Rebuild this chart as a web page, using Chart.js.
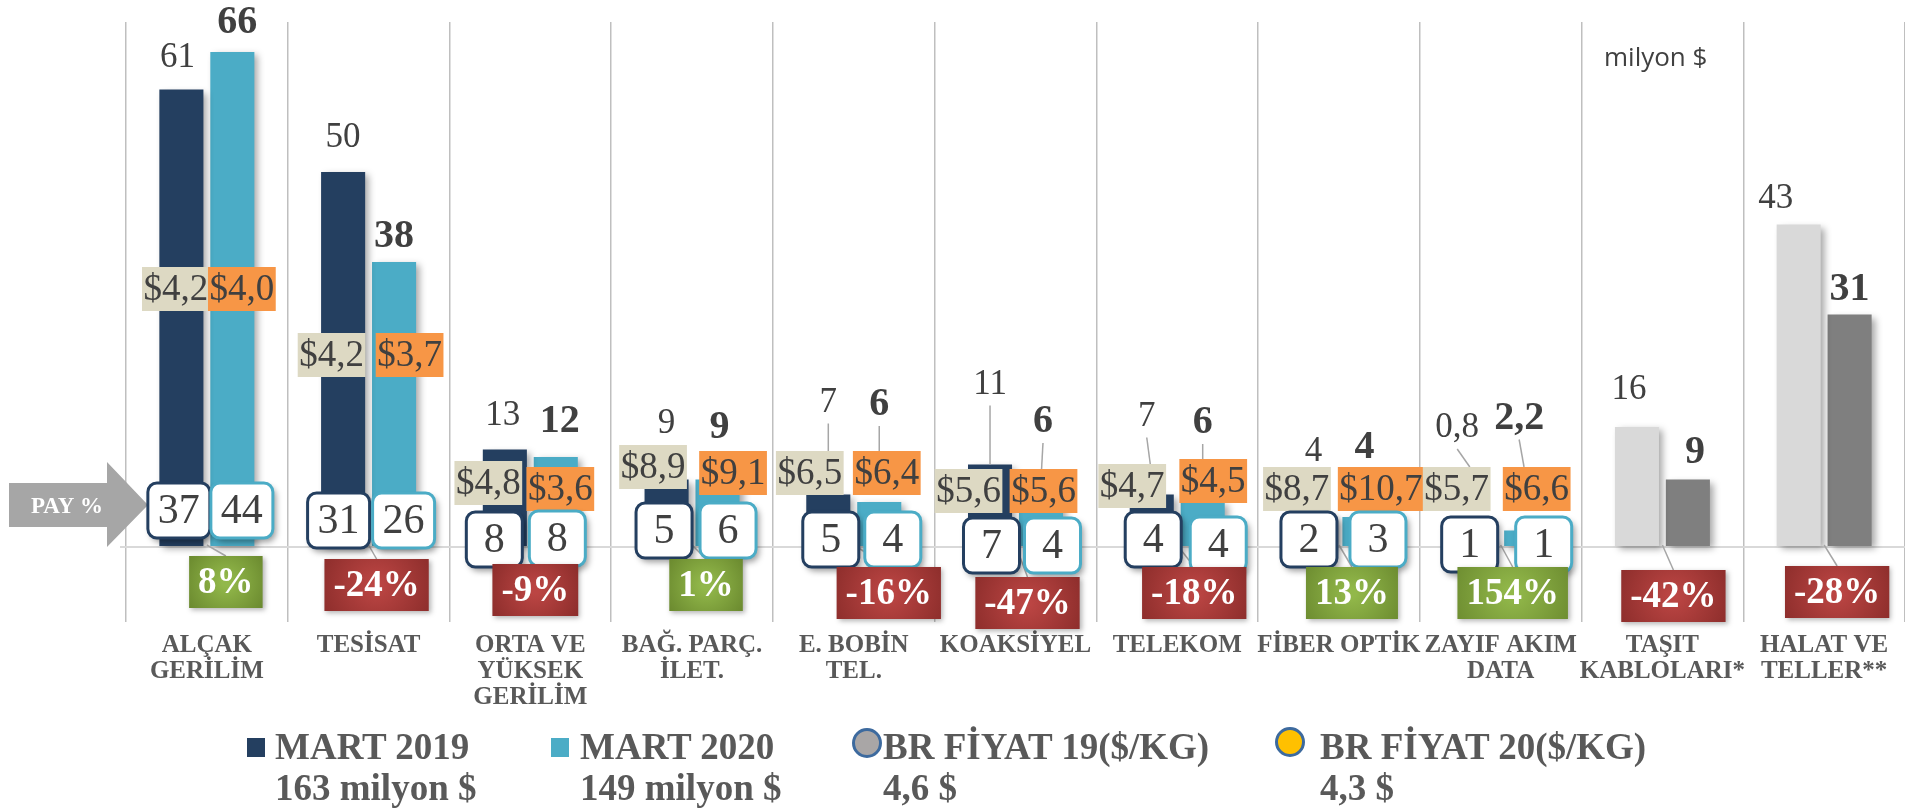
<!DOCTYPE html>
<html>
<head>
<meta charset="utf-8">
<script src="https://cdn.jsdelivr.net/npm/chart.js@4.4.1/dist/chart.umd.min.js"></script>
<style>
html,body{margin:0;padding:0;background:#fff;}
#wrap{position:relative;width:1905px;height:811px;overflow:hidden;}
#grafik{position:absolute;left:0;top:0;}
.leg{position:absolute;top:726px;font:bold 37px "Liberation Serif",serif;color:#595959;line-height:41px;white-space:nowrap;}
.kare{position:absolute;top:738px;width:18px;height:19px;}
.daire{position:absolute;width:24px;height:24px;border-radius:50%;border:3px solid #3d6a9e;}
#birim{position:absolute;left:1604px;top:38px;font:26px "Open Sans",sans-serif;color:#404040;}
</style>
</head>
<body>
<div id="wrap">
  <canvas id="grafik" width="1905" height="811"></canvas>
  <div id="birim">milyon $</div>
  <div class="kare" style="left:247px;background:#243f60"></div>
  <div class="leg" id="leg0" style="left:275px"></div>
  <div class="kare" style="left:551px;background:#4bacc6"></div>
  <div class="leg" id="leg1" style="left:580px"></div>
  <div class="daire" style="left:852px;top:728px;background:#a9a6a6"></div>
  <div class="leg" id="leg2" style="left:883px"></div>
  <div class="daire" style="left:1275px;top:727px;background:#ffc000"></div>
  <div class="leg" id="leg3" style="left:1320px"></div>
</div>
<script>
// Veriler (milyon $)
const kategoriler = [
  ['ALÇAK','GERİLİM'], ['TESİSAT'], ['ORTA VE','YÜKSEK','GERİLİM'], ['BAĞ. PARÇ.','İLET.'],
  ['E. BOBİN','TEL.'], ['KOAKSİYEL'], ['TELEKOM'], ['FİBER OPTİK'], ['ZAYIF AKIM','DATA'],
  ['TAŞIT','KABLOLARI*'], ['HALAT VE','TELLER**']
];
const mart2019 = [61, 50, 13, 9, 7, 11, 7, 4, 0.8, 16, 43];
const mart2020 = [66, 38, 12, 9, 6, 6, 6, 4, 2.2, 9, 31];
const fiyat2019 = [4.2, 4.2, 4.8, 8.9, 6.5, 5.6, 4.7, 8.7, 5.7, null, null];
const fiyat2020 = [4.0, 3.7, 3.6, 9.1, 6.4, 5.6, 4.5, 10.7, 6.6, null, null];
const pay2019 = [37, 31, 8, 5, 5, 7, 4, 2, 1, null, null];
const pay2020 = [44, 26, 8, 6, 4, 4, 4, 3, 1, null, null];
const degisim = [8, -24, -9, 1, -16, -47, -18, 13, 154, -42, -28];
const seriAdlari = ['MART 2019', 'MART 2020', 'BR FİYAT 19($/KG)', 'BR FİYAT 20($/KG)'];
const toplamlar = [163, 149];
const ortFiyatlar = [4.6, 4.3];

// Etiket yerleşimi (piksel kaydırmaları)
const etiketDy19 = [-32, -34, -34, -56, -92, -80, -78, -65, -113, -37, -26];
const etiketDy20 = [-29, -25, -35, -52, -97, -80, -79, -69, -112, -27, -25];
const etiketDx19 = [-4, 0, -2, 0, 0, 0, -5, 0, -18, -8, -23];
const etiketDx20 = [5, 0, 4, 2, 0, 2, 0, 0, -7, 7, 0];
const kilavuz = [0, 0, 0, 0, 1, 1, 1, 0, 1, 0, 0];
const fiyatYer = [ // [dx19, dy19, dx20, dy20] kategori merkezine / sıfır çizgisine göre
  [-31,-258,35,-258], [-37,-192,41,-192], [-42,-64,30,-58], [-39,-80,41,-74], [-44,-74,33,-74],
  [-47,-56,28,-56], [-45,-61,36,-66], [-42,-58,42,-58], [-44,-58,36,-58]
];
const payYer = [
  [-28,-37,35,-37], [-30,-27,35,-27], [-36,-8,27,-9], [-28,-17,36,-17], [-23,-8,39,-8],
  [-24,-2,37,-2], [-24,-8,41,-3], [-30,-8,39,-8], [-31,-3,43,-3]
];
const yuzdeYer = [[19,35],[8,38],[5,43],[14,38],[35,46],[12,56],[17,46],[13,46],[12,46],[11,49],[13,45]];

const virgul = (v, d) => (d === undefined ? String(v) : v.toFixed(d)).replace('.', ',');

document.getElementById('leg0').innerHTML = seriAdlari[0] + '<br>' + toplamlar[0] + ' milyon $';
document.getElementById('leg1').innerHTML = seriAdlari[1] + '<br>' + toplamlar[1] + ' milyon $';
document.getElementById('leg2').innerHTML = seriAdlari[2] + '<br>' + virgul(ortFiyatlar[0], 1) + ' $';
document.getElementById('leg3').innerHTML = seriAdlari[3] + '<br>' + virgul(ortFiyatlar[1], 1) + ' $';

const SERIF = '"Liberation Serif", serif';

function kutu(ctx, x, y, w, h, r) {
  ctx.beginPath();
  ctx.moveTo(x + r, y);
  ctx.arcTo(x + w, y, x + w, y + h, r);
  ctx.arcTo(x + w, y + h, x, y + h, r);
  ctx.arcTo(x, y + h, x, y, r);
  ctx.arcTo(x, y, x + w, y, r);
  ctx.closePath();
}

const ustKatman = {
  id: 'ustKatman',
  beforeDatasetsDraw(chart) {
    const ctx = chart.ctx;
    ctx.save();
    ctx.shadowColor = 'rgba(0,0,0,0.35)';
    ctx.shadowBlur = 7;
    ctx.shadowOffsetX = 4;
    ctx.shadowOffsetY = 3;
  },
  afterDatasetsDraw(chart) {
    const ctx = chart.ctx;
    ctx.restore();
    const x = chart.scales.x, y = chart.scales.y;
    const y0 = y.getPixelForValue(0);
    const m0 = chart.getDatasetMeta(0).data, m1 = chart.getDatasetMeta(1).data;

    // sıfır çizgisi oka kadar uzasın
    ctx.save();
    ctx.strokeStyle = '#d9d9d9';
    ctx.lineWidth = 2;
    ctx.beginPath(); ctx.moveTo(120, y0); ctx.lineTo(chart.chartArea.left, y0); ctx.stroke();

    // PAY % oku
    ctx.fillStyle = '#a6a6a6';
    ctx.beginPath();
    ctx.moveTo(9, y0 - 64); ctx.lineTo(107, y0 - 64); ctx.lineTo(107, y0 - 85);
    ctx.lineTo(148, y0 - 42); ctx.lineTo(107, y0 + 0); ctx.lineTo(107, y0 - 20);
    ctx.lineTo(9, y0 - 20); ctx.closePath(); ctx.fill();
    ctx.fillStyle = '#ffffff';
    ctx.font = 'bold 23px ' + SERIF;
    ctx.textAlign = 'center'; ctx.textBaseline = 'middle';
    ctx.fillText('PAY %', 67, y0 - 40);
    ctx.restore();

    ctx.save();
    ctx.textAlign = 'center';
    ctx.textBaseline = 'middle';

    // kılavuz çizgileri: sıfır çizgisinden yüzde kutusuna
    ctx.strokeStyle = '#a6a6a6';
    ctx.lineWidth = 1.5;
    kategoriler.forEach((k, i) => {
      const cx = x.getPixelForValue(i);
      ctx.beginPath();
      ctx.moveTo(cx, y0 - 2);
      ctx.lineTo(cx + yuzdeYer[i][0], y0 + yuzdeYer[i][1] - 26);
      ctx.stroke();
    });

    // değer etiketi kılavuzları
    kategoriler.forEach((k, i) => {
      if (!kilavuz[i]) return;
      [[m0[i], etiketDx19[i], etiketDy19[i], fiyatYer[i][1]], [m1[i], etiketDx20[i], etiketDy20[i], fiyatYer[i][3]]].forEach(([bar, dx, dy, fdy]) => {
        const lx = bar.x + dx, ly = bar.y + dy + 21;
        const hedef = Math.min(bar.y, y0 + fdy - 22);
        ctx.beginPath();
        ctx.moveTo(lx, ly);
        ctx.lineTo(bar.x + dx * 0.3, hedef);
        ctx.stroke();
      });
    });

    // fiyat kutuları
    ctx.font = '37px ' + SERIF;
    kategoriler.forEach((k, i) => {
      if (fiyat2019[i] == null) return;
      const cx = x.getPixelForValue(i);
      [[fiyat2019[i], fiyatYer[i][0], fiyatYer[i][1], '#ddd9c3'], [fiyat2020[i], fiyatYer[i][2], fiyatYer[i][3], '#f79646']].forEach(([v, dx, dy, renk]) => {
        const t = '$' + virgul(v, 1);
        const w = ctx.measureText(t).width + 3;
        ctx.fillStyle = renk;
        ctx.fillRect(cx + dx - w / 2, y0 + dy - 22, w, 44);
        ctx.fillStyle = '#404040';
        ctx.fillText(t, cx + dx, y0 + dy + 1);
      });
    });

    // pay kutuları
    ctx.font = '42px ' + SERIF;
    kategoriler.forEach((k, i) => {
      if (pay2019[i] == null) return;
      const cx = x.getPixelForValue(i);
      [[pay2019[i], payYer[i][0], payYer[i][1], '#243f60'], [pay2020[i], payYer[i][2], payYer[i][3], '#4bacc6']].forEach(([v, dx, dy, renk]) => {
        const t = String(v);
        const w = Math.max(ctx.measureText(t).width + 20, 56);
        ctx.save();
        ctx.shadowColor = 'rgba(0,0,0,0.4)';
        ctx.shadowBlur = 6; ctx.shadowOffsetX = 3; ctx.shadowOffsetY = 4;
        kutu(ctx, cx + dx - w / 2, y0 + dy - 27, w, 55, 9);
        ctx.fillStyle = '#ffffff';
        ctx.fill();
        ctx.restore();
        ctx.lineWidth = 3;
        ctx.strokeStyle = renk;
        kutu(ctx, cx + dx - w / 2, y0 + dy - 27, w, 55, 9);
        ctx.stroke();
        ctx.fillStyle = '#404040';
        ctx.fillText(t, cx + dx, y0 + dy + 2);
      });
    });

    // değişim yüzdeleri
    ctx.font = 'bold 37px ' + SERIF;
    degisim.forEach((v, i) => {
      const cx = x.getPixelForValue(i) + yuzdeYer[i][0];
      const cy = y0 + yuzdeYer[i][1];
      const t = v + '%';
      const w = ctx.measureText(t).width + 18;
      const g = ctx.createRadialGradient(cx, cy, 4, cx, cy, w * 0.6);
      if (v >= 0) { g.addColorStop(0, '#92b84a'); g.addColorStop(1, '#6b8a2f'); }
      else { g.addColorStop(0, '#bb4543'); g.addColorStop(1, '#8a2c2a'); }
      ctx.save();
      ctx.shadowColor = 'rgba(0,0,0,0.3)';
      ctx.shadowBlur = 5; ctx.shadowOffsetX = 2; ctx.shadowOffsetY = 2;
      ctx.fillStyle = g;
      ctx.fillRect(cx - w / 2, cy - 26, w, 52);
      ctx.restore();
      ctx.fillStyle = '#ffffff';
      ctx.fillText(t, cx, cy + 1);
    });

    // değer etiketleri
    ctx.fillStyle = '#404040';
    kategoriler.forEach((k, i) => {
      ctx.font = '35px ' + SERIF;
      ctx.fillText(virgul(mart2019[i]), m0[i].x + etiketDx19[i], m0[i].y + etiketDy19[i]);
      ctx.font = 'bold 40px ' + SERIF;
      ctx.fillText(virgul(mart2020[i]), m1[i].x + etiketDx20[i], m1[i].y + etiketDy20[i]);
    });
    ctx.restore();
  }
};

new Chart(document.getElementById('grafik'), {
  type: 'bar',
  data: {
    labels: kategoriler,
    datasets: [
      {
        label: seriAdlari[0],
        data: mart2019,
        backgroundColor: c => c.dataIndex >= 9 ? '#d9d9d9' : '#243f60',
        categoryPercentage: 0.63,
        barPercentage: 0.865
      },
      {
        label: seriAdlari[1],
        data: mart2020,
        backgroundColor: c => c.dataIndex >= 9 ? '#7f7f7f' : '#4bacc6',
        categoryPercentage: 0.63,
        barPercentage: 0.865
      }
    ]
  },
  options: {
    responsive: false,
    animation: false,
    layout: { padding: { left: 126, top: 22, right: 0, bottom: 0 } },
    plugins: { legend: { display: false }, tooltip: { enabled: false } },
    scales: {
      x: {
        grid: { offset: true, color: '#bfbfbf', lineWidth: 1.5, drawTicks: false },
        border: { display: false },
        ticks: {
          color: '#595959', padding: 11, maxRotation: 0, autoSkip: false,
          font: { family: 'Liberation Serif', size: 25, weight: 'bold', lineHeight: 1.04 }
        },
        afterFit: s => { s.height = 189; }
      },
      y: {
        min: -10, max: 70,
        ticks: { display: false },
        border: { display: false },
        grid: { drawTicks: false, lineWidth: 2, color: c => c.tick.value === 0 ? '#d9d9d9' : 'rgba(0,0,0,0)' },
        afterFit: s => { s.width = 0; }
      }
    }
  },
  plugins: [ustKatman]
});
</script>
</body>
</html>
